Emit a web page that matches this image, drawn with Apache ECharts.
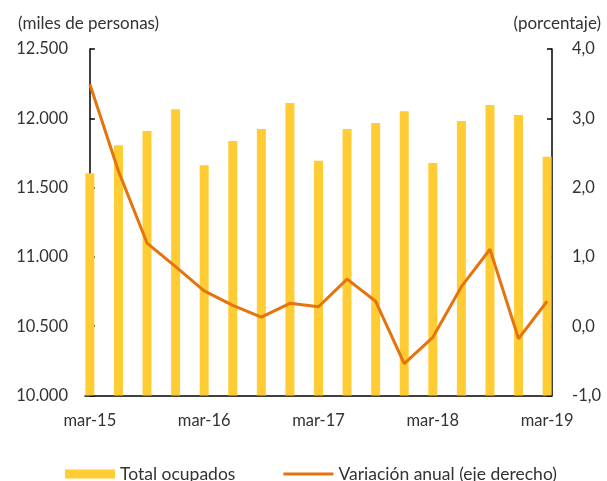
<!DOCTYPE html>
<html>
<head>
<meta charset="utf-8">
<script src="https://cdn.jsdelivr.net/npm/echarts@6/dist/echarts.min.js"></script>
<style>
  html, body { margin: 0; padding: 0; background: #fff; }
  #chart { width: 607px; height: 481px; }
</style>
</head>
<body>
<div id="chart"></div>
<script>
// Quarterly employment, mar-15 to mar-19
const quarters = ['mar-15','jun-15','sep-15','dic-15','mar-16','jun-16','sep-16','dic-16',
                  'mar-17','jun-17','sep-17','dic-17','mar-18','jun-18','sep-18','dic-18','mar-19'];
// Total employed (thousands of people)
const totalOcupados = [11604, 11805, 11908, 12065, 11662, 11836, 11923, 12111,
                       11694, 11923, 11966, 12051, 11677, 11980, 12096, 12024, 11723];
// Year-on-year change (%)
const variacionAnual = [3.49, 2.24, 1.20, 0.86, 0.51, 0.30, 0.13, 0.33,
                        0.28, 0.68, 0.36, -0.54, -0.16, 0.57, 1.11, -0.18, 0.36];
// Labelled quarters on the horizontal axis
const labelIdx = [0, 4, 8, 12, 16];
const tickIdx = [4, 8, 12, 16];

const FONT = 'Lato, "Open Sans", sans-serif';
const TXT = '#333333';
const BAR_COLOR = '#FFCD33';
const LINE_COLOR = '#E5730E';

const chart = echarts.init(document.getElementById('chart'), null, { renderer: 'canvas' });

const fmtThousands = v => String(v).replace(/\B(?=(\d{3})+(?!\d))/g, '.');
const fmtDecimal = v => v.toFixed(1).replace('.', ',');

chart.setOption({
  animation: false,
  textStyle: { fontFamily: FONT },
  grid: { left: 85, right: 55, top: 49, bottom: 85.5 },
  graphic: [
    { type: 'text', left: 18, top: 15,
      style: { text: '(miles de personas)', font: '17px ' + FONT, fill: TXT } },
    { type: 'text', right: 6, top: 15,
      style: { text: '(porcentaje)', font: '17px ' + FONT, fill: TXT } }
  ],
  legend: {
    left: 60, top: 460,
    itemWidth: 50, itemHeight: 9, itemGap: 48,
    textStyle: { fontSize: 17.5, color: TXT, fontFamily: FONT },
    data: [
      { name: 'Total ocupados', icon: 'rect' },
      { name: 'Variación anual (eje derecho)', icon: 'path://M0,0 H50 V3 H0 Z' }
    ]
  },
  xAxis: {
    type: 'value',
    min: -0.17, max: quarters.length - 1 + 0.17,
    splitLine: { show: false },
    axisLine: { show: true, onZero: false, lineStyle: { color: '#000', width: 1.5 } },
    axisTick: { show: true, inside: true, length: 5, customValues: tickIdx,
                lineStyle: { color: '#000', width: 1.5 } },
    axisLabel: { customValues: labelIdx, margin: 17, fontSize: 16.5, color: TXT,
                 fontFamily: FONT, formatter: v => quarters[Math.round(v)] }
  },
  yAxis: [
    {
      type: 'value', min: 10000, max: 12500, interval: 500,
      splitLine: { show: false },
      axisLine: { show: true, lineStyle: { color: '#000', width: 1.5 } },
      axisTick: { show: true, inside: true, length: 5, lineStyle: { color: '#000', width: 1.5 } },
      axisLabel: { margin: 17, fontSize: 16.5, color: TXT, fontFamily: FONT, formatter: fmtThousands }
    },
    {
      type: 'value', min: -1, max: 4, interval: 1, position: 'right',
      splitLine: { show: false },
      axisLine: { show: true, lineStyle: { color: '#000', width: 1.5 } },
      axisTick: { show: true, inside: true, length: 5, lineStyle: { color: '#000', width: 1.5 } },
      axisLabel: { margin: 20, fontSize: 16.5, color: TXT, fontFamily: FONT, formatter: fmtDecimal }
    }
  ],
  series: [
    {
      name: 'Total ocupados', type: 'bar', yAxisIndex: 0,
      barWidth: 9,
      itemStyle: { color: BAR_COLOR },
      data: totalOcupados.map((v, i) => [i, v])
    },
    {
      name: 'Variación anual (eje derecho)', type: 'line', yAxisIndex: 1,
      symbol: 'none',
      lineStyle: { color: LINE_COLOR, width: 3 },
      itemStyle: { color: LINE_COLOR },
      data: variacionAnual.map((v, i) => [i, v])
    }
  ]
});
</script>
</body>
</html>
